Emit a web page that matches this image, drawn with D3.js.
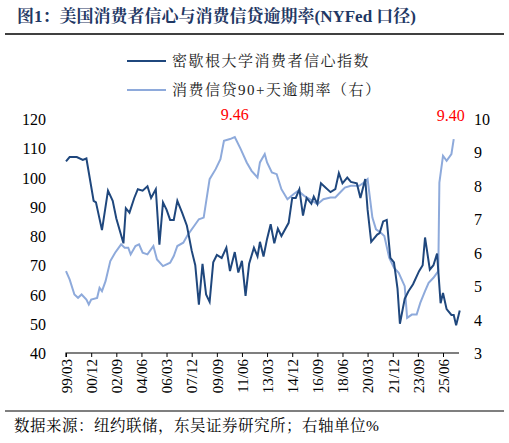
<!DOCTYPE html>
<html><head><meta charset="utf-8">
<script src="https://cdn.jsdelivr.net/npm/d3@7"></script>
<style>body{margin:0;background:#fff}svg{display:block}</style>
</head><body>
<svg id="c" width="509" height="443"></svg>
<script>
const sentDates=["1999-03","1999-06","1999-12","2000-05","2000-08","2001-02","2001-04","2001-09","2002-02","2002-06","2002-09","2003-03","2003-05","2003-08","2003-12","2004-03","2004-07","2004-11","2005-02","2005-06","2005-09","2005-12","2006-03","2006-06","2006-09","2006-12","2007-04","2007-08","2007-12","2008-03","2008-06","2008-09","2008-12","2009-03","2009-06","2009-09","2010-01","2010-05","2010-08","2010-12","2011-03","2011-06","2011-09","2011-12","2012-04","2012-07","2012-09","2012-12","2013-03","2013-06","2013-09","2013-12","2014-03","2014-09","2014-12","2015-03","2015-06","2015-09","2015-12","2016-04","2016-06","2016-09","2016-12","2017-04","2017-08","2017-12","2018-03","2018-06","2018-10","2019-01","2019-06","2019-09","2020-01","2020-03","2020-06","2020-11","2021-01","2021-04","2021-07","2021-10","2022-01","2022-04","2022-06","2022-10","2023-01","2023-05","2023-10","2024-01","2024-03","2024-07","2024-10","2025-01","2025-04","2025-06","2025-09","2026-01","2026-03","2026-05","2026-08"];
const sentValues=[105.5,107,107,106,106.5,92,91.5,82,95.5,92,86,77.5,89.5,88,93,96,95.5,97,93,96,77,91.5,89,85.5,85.5,92,88,83.5,75,70,56.5,70.5,60,57.5,71,73.5,72.5,76,68,74.5,67.5,71.5,59.5,70.5,76,73,78,73,79,84,77.5,82.5,80,84.5,93,93,96,87,93,91,93.5,91,98,96.5,95,96,101.5,98,100,98.5,98,93,99.5,89,78,80.5,81,85,85.5,72.5,71,62,50,58.5,61,63.5,68,70,79.5,68.5,70,74,57,60.5,55,53,53,49.5,54.5];
const delqDates=["1999-03","1999-06","1999-10","2000-01","2000-04","2000-08","2000-10","2000-12","2001-05","2001-07","2001-09","2001-12","2002-04","2002-08","2003-01","2003-04","2003-07","2003-09","2004-01","2004-04","2004-07","2004-11","2005-04","2005-07","2005-12","2006-06","2006-09","2006-12","2007-05","2007-09","2008-02","2008-06","2008-10","2009-03","2009-08","2009-12","2010-03","2010-08","2010-12","2011-05","2011-10","2012-02","2012-07","2012-09","2013-01","2013-03","2013-07","2013-11","2014-03","2014-08","2015-01","2015-05","2015-10","2016-03","2016-09","2017-02","2017-08","2017-12","2018-04","2018-08","2019-01","2019-08","2019-12","2020-03","2020-07","2020-10","2021-02","2021-05","2021-09","2022-01","2022-05","2022-10","2022-12","2023-04","2023-08","2023-11","2024-03","2024-06","2024-10","2025-02","2025-03","2025-06","2025-09","2026-01","2026-03"];
const delqValues=[5.45,5.2,4.75,4.65,4.75,4.6,4.45,4.6,4.65,4.95,4.85,5.15,5.75,6.0,6.25,6.15,6.15,5.95,6.2,6.25,6.0,5.95,6.2,5.8,5.6,5.7,5.9,6.2,6.3,6.55,6.8,7.0,7.05,8.2,8.5,8.8,9.35,9.4,9.46,9.1,8.7,8.45,8.25,8.7,8.95,8.7,8.4,8.35,7.9,7.6,7.75,7.85,7.7,7.6,7.45,7.6,7.65,7.65,7.8,7.95,8.0,8.0,8.1,8.2,7.05,6.7,6.6,6.5,5.85,5.55,5.4,5.0,4.05,4.15,4.15,4.5,4.85,5.1,5.25,5.45,8.1,8.9,8.75,8.95,9.4];
const leftTicks=[40,50,60,70,80,90,100,110,120];
const rightTicks=[3,4,5,6,7,8,9,10];
const seriesNames=["密歇根大学消费者信心指数","消费信贷90+天逾期率（右）"];

const P=d3.timeParse("%Y-%m");
const svg=d3.select("#c");
const font="'Liberation Serif','Noto Serif CJK SC','Noto Sans CJK SC',serif";
const dark="#1f477d", light="#8eaadb";
const x=d3.scaleTime().domain([P("1999-03"),P("2025-06")]).range([66,443]);
const yL=d3.scaleLinear().domain([40,120]).range([353,119]);
const yR=d3.scaleLinear().domain([3,10]).range([353,119]);

svg.append("text").attr("x",17).attr("y",22).attr("font-family",font).attr("font-size",17).attr("font-weight","bold").attr("fill","#1f3864").text("图1：美国消费者信心与消费信贷逾期率(NYFed 口径)");
svg.append("line").attr("x1",5).attr("x2",504).attr("y1",34).attr("y2",34).attr("stroke","#000").attr("stroke-width",1.5);
svg.append("line").attr("x1",5).attr("x2",504).attr("y1",411).attr("y2",411).attr("stroke","#000").attr("stroke-width",1.2);
svg.append("text").attr("x",14).attr("y",431).attr("font-family",font).attr("font-size",15.5).attr("letter-spacing","0.5px").text("数据来源：纽约联储，东吴证券研究所；右轴单位%");

// legend
[[dark,61],[light,90]].forEach((d,i)=>{
  svg.append("line").attr("x1",127).attr("x2",166).attr("y1",d[1]).attr("y2",d[1]).attr("stroke",d[0]).attr("stroke-width",2);
  svg.append("text").attr("x",172).attr("y",d[1]+5).attr("font-family",font).attr("font-size",15).attr("letter-spacing","1.5px").attr("fill","#222").text(seriesNames[i]);
});

// axes
svg.append("g").selectAll("text").data(leftTicks).join("text").attr("x",46).attr("y",d=>yL(d)+6).attr("text-anchor","end").attr("font-family",font).attr("font-size",16).text(d=>d);
svg.append("g").selectAll("text").data(rightTicks).join("text").attr("x",474).attr("y",d=>yR(d)+6).attr("text-anchor","start").attr("font-family",font).attr("font-size",16).text(d=>d);

const xt=[];for(let m=0;m<=315;m+=21){const d=P("1999-03");d.setMonth(d.getMonth()+m);xt.push(d);}
const ax=svg.append("g").attr("transform","translate(0,353)").call(d3.axisBottom(x).tickValues(xt).tickSize(4).tickFormat(d3.timeFormat("%y/%m")));
ax.select(".domain").attr("d","M66,4V0H459").attr("stroke","#000").attr("stroke-width",1.2);
ax.selectAll(".tick line").attr("stroke","#000");
ax.selectAll(".tick text").attr("font-family",font).attr("font-size",15).attr("fill","#000").attr("transform","rotate(-90)").attr("text-anchor","end").attr("x",-6).attr("y",0).attr("dy","0.35em");

const line=(ys,vals)=>d3.line().x((d,i)=>x(P(d))).y((d,i)=>ys(vals[i]));
svg.append("path").attr("d",line(yR,delqValues)(delqDates)).attr("fill","none").attr("stroke",light).attr("stroke-width",2);
svg.append("path").attr("d",line(yL,sentValues)(sentDates)).attr("fill","none").attr("stroke",dark).attr("stroke-width",2);

svg.append("text").attr("x",x(P("2010-12"))).attr("y",120).attr("text-anchor","middle").attr("font-family",font).attr("font-size",16).attr("fill","#ff0000").text("9.46");
svg.append("text").attr("x",x(P("2026-02"))-2).attr("y",121).attr("text-anchor","middle").attr("font-family",font).attr("font-size",16).attr("fill","#ff0000").text("9.40");
</script></body></html>
